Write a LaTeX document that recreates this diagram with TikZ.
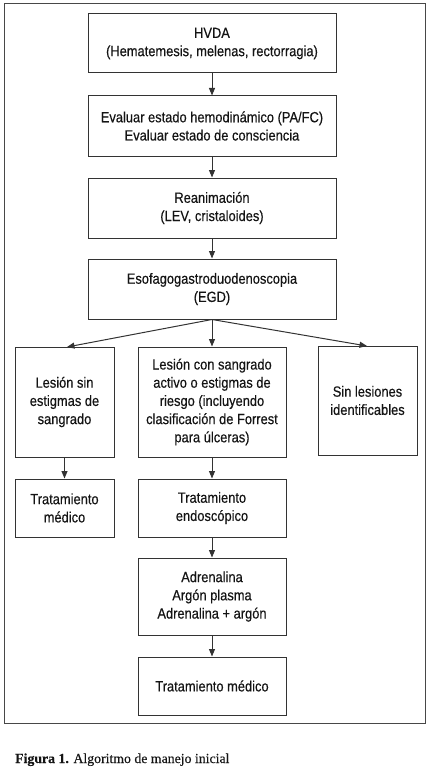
\documentclass[tikz,border=0pt]{standalone}
\usepackage{fontspec}
\setmainfont{Liberation Sans}
\newfontfamily\boxfont[FakeStretch=0.87,FakeBold=0.4]{Liberation Sans}
\newfontfamily\capfont[FakeBold=0.3]{Liberation Serif}
\usetikzlibrary{arrows.meta}
\definecolor{linecol}{HTML}{333333}
\definecolor{txtcol}{HTML}{141414}
\begin{document}
\begin{tikzpicture}[x=1pt,y=-1pt,
  box/.style={draw=linecol,line width=1pt,align=center,inner sep=2pt,text=txtcol,
    font=\boxfont\fontsize{14.8}{18.2}\selectfont},
  conn/.style={draw=linecol,line width=1pt,-{Triangle[length=7.5pt,width=6pt]}}]
\useasboundingbox (0,0) rectangle (430,773);
\draw[draw=linecol!90,line width=1pt] (4.5,4) rectangle (425,723);
\node[box,minimum width=248pt,minimum height=59pt] (b1) at (212,43.5) {HVDA\\(Hematemesis, melenas, rectorragia)};
\node[box,minimum width=248pt,minimum height=60pt] (b2) at (212,126) {Evaluar estado hemodinámico (PA/FC)\\Evaluar estado de consciencia};
\node[box,minimum width=248pt,minimum height=60pt] (b3) at (212,208) {Reanimación\\(LEV, cristaloides)};
\node[box,minimum width=248pt,minimum height=60pt] (b4) at (212,289) {Esofagogastroduodenoscopia\\(EGD)};
\node[box,minimum width=99pt,minimum height=110pt] (l1) at (64.5,402) {Lesión sin\\estigmas de\\sangrado};
\node[box,minimum width=148pt,minimum height=110pt] (m1) at (212,402) {Lesión con sangrado\\activo o estigmas de\\riesgo (incluyendo\\clasificación de Forrest\\para úlceras)};
\node[box,minimum width=99pt,minimum height=109pt] (r1) at (367.5,400.5) {Sin lesiones\\identificables};
\node[box,minimum width=99pt,minimum height=58pt] (l2) at (64.5,508) {Tratamiento\\médico};
\node[box,minimum width=148pt,minimum height=58pt] (m2) at (212,508) {Tratamiento\\endoscópico};
\node[box,minimum width=148pt,minimum height=77pt] (m3) at (212,596.5) {Adrenalina\\Argón plasma\\Adrenalina + argón};
\node[box,minimum width=148pt,minimum height=58pt] (m4) at (212,686) {Tratamiento médico};
\coordinate (lt) at (67,347);
\coordinate (rt) at (367,346);
\draw[conn] (b1) -- (b2);
\draw[conn] (b2) -- (b3);
\draw[conn] (b3) -- (b4);
\draw[conn] (b4.south) -- (lt);
\draw[conn] (b4.south) -- (m1.north);
\draw[conn] (b4.south) -- (rt);
\draw[conn] (l1) -- (l2);
\draw[conn] (m1) -- (m2);
\draw[conn] (m2) -- (m3);
\draw[conn] (m3) -- (m4);
\node[anchor=base west,inner sep=0pt,text=txtcol,font=\capfont\fontsize{13.8}{16}\selectfont] (cap) at (15,763) {\textbf{Figura 1.} Algoritmo de manejo inicial};
\end{tikzpicture}
\end{document}
